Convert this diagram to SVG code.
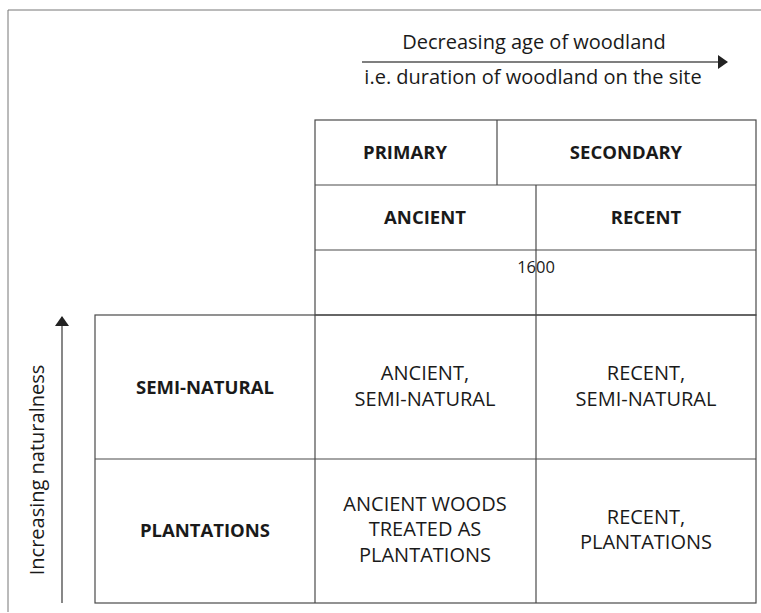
<svg xmlns="http://www.w3.org/2000/svg" width="761" height="613" viewBox="0 0 761 613">
<style>
text{font-family:"Open Sans","Noto Sans","DejaVu Sans",sans-serif;fill:#1a1a1a;text-anchor:middle}
.b{font-weight:700;font-size:18.5px}
.r{font-size:20px}
.g{fill:none;stroke:#4a4a4a;stroke-width:1.2}
</style>
<defs>
<marker id="ah" markerWidth="10" markerHeight="14" refX="9" refY="7" orient="auto" markerUnits="userSpaceOnUse">
<path d="M0,0 L10,7 L0,14 Z" fill="#222"/>
</marker>
</defs>
<rect width="761" height="613" fill="#fff"/>
<path d="M8,612 L8,10 L761,10" fill="none" stroke="#777" stroke-width="1"/>
<g id="connectors">
<line x1="362" y1="62" x2="727" y2="62" stroke="#555" stroke-width="1.4" marker-end="url(#ah)"/>
<line x1="62" y1="603" x2="62" y2="317" stroke="#555" stroke-width="1.4" marker-end="url(#ah)"/>
</g>
<g id="axis-labels">
<text x="534" y="49" class="r">Decreasing age of woodland</text>
<text x="533" y="84" class="r">i.e. duration of woodland on the site</text>
<text transform="translate(44,470) rotate(-90)" class="r">Increasing naturalness</text>
</g>
<g id="grid">
<rect x="315" y="120" width="441" height="195" class="g"/>
<line x1="497" y1="120" x2="497" y2="185" class="g"/>
<line x1="315" y1="185" x2="756" y2="185" class="g"/>
<line x1="315" y1="250" x2="756" y2="250" class="g"/>
<rect x="95" y="315" width="661" height="288" class="g"/>
<line x1="95" y1="459" x2="756" y2="459" class="g"/>
<line x1="315" y1="315" x2="315" y2="603" class="g"/>
<line x1="536" y1="185" x2="536" y2="603" class="g"/>
</g>
<g id="primary"><text x="405" y="159" class="b">PRIMARY</text></g>
<g id="secondary"><text x="626" y="159" class="b">SECONDARY</text></g>
<g id="ancient"><text x="425" y="224" class="b">ANCIENT</text></g>
<g id="recent"><text x="646" y="224" class="b">RECENT</text></g>
<g id="year"><text x="536" y="273" style="font-size:16.5px">1600</text></g>
<g id="semi-natural"><text x="205" y="394" class="b">SEMI-NATURAL</text></g>
<g id="plantations"><text x="205" y="537" class="b">PLANTATIONS</text></g>
<g id="ancient-semi-natural"><text x="425" y="380" class="r">ANCIENT,</text><text x="425" y="406" class="r">SEMI-NATURAL</text></g>
<g id="recent-semi-natural"><text x="646" y="380" class="r">RECENT,</text><text x="646" y="406" class="r">SEMI-NATURAL</text></g>
<g id="ancient-plantations"><text x="425" y="511" class="r">ANCIENT WOODS</text><text x="425" y="536" class="r">TREATED AS</text><text x="425" y="562" class="r">PLANTATIONS</text></g>
<g id="recent-plantations"><text x="646" y="524" class="r">RECENT,</text><text x="646" y="549" class="r">PLANTATIONS</text></g>
</svg>
